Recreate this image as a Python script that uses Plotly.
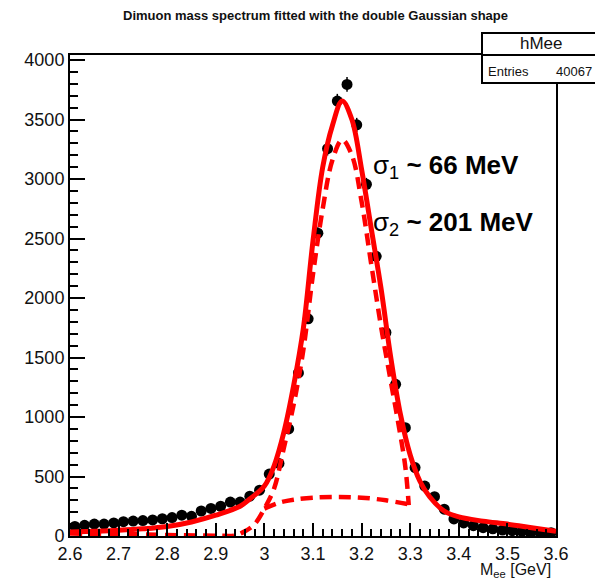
import numpy as np
import plotly.graph_objects as go

# ---------------- data ----------------
bin_centers = [2.61, 2.63, 2.65, 2.67, 2.69, 2.71, 2.73, 2.75, 2.77, 2.79,
               2.81, 2.83, 2.85, 2.87, 2.89, 2.91, 2.93, 2.95, 2.97, 2.99,
               3.01, 3.03, 3.05, 3.07, 3.09, 3.11, 3.13, 3.15, 3.17, 3.19,
               3.21, 3.23, 3.25, 3.27, 3.29, 3.31, 3.33, 3.35, 3.37, 3.39,
               3.41, 3.43, 3.45, 3.47, 3.49, 3.51, 3.53, 3.55, 3.57, 3.59]
counts = [80, 90, 100, 100, 110, 120, 125, 130, 135, 145,
          155, 175, 165, 210, 232, 250, 285, 285, 335, 385,
          520, 610, 900, 1370, 1825, 2545, 3255, 3655, 3795, 3455,
          2955, 2350, 1710, 1275, 910, 575, 420, 330, 225, 143,
          110, 87, 70, 60, 50, 45, 40, 35, 30, 28]

total_x = [2.60, 2.65, 2.70, 2.75, 2.80, 2.85, 2.90, 2.95, 2.97, 3.00,
           3.02, 3.04, 3.06, 3.08, 3.10, 3.12, 3.14, 3.16, 3.18, 3.20,
           3.22, 3.24, 3.26, 3.28, 3.30, 3.32, 3.34, 3.37, 3.40, 3.45,
           3.50, 3.55, 3.60]
total_y = [34, 40, 48, 60, 80, 118, 175, 250, 311, 420,
           590, 870, 1260, 1740, 2480, 3100, 3450, 3655, 3500, 3080,
           2580, 2080, 1500, 1020, 680, 460, 330, 210, 160, 125,
           100, 70, 40]

narrow_x = [2.60, 2.70, 2.80, 2.90, 2.94, 2.96, 2.98, 3.00, 3.02, 3.04,
            3.06, 3.08, 3.10, 3.12, 3.14, 3.16, 3.18, 3.20, 3.22, 3.24,
            3.26, 3.275, 3.29, 3.297]
narrow_y = [20, 18, 8, 3, 5, 40, 100, 230, 400, 740,
            1100, 1560, 2200, 2750, 3160, 3330, 3200, 2810, 2280, 1760,
            1300, 960, 580, 260]

wide_x = [3.00, 3.03, 3.06, 3.10, 3.15, 3.20, 3.25, 3.295]
wide_y = [230, 280, 305, 322, 328, 322, 300, 268]

x_ticks = [2.6, 2.7, 2.8, 2.9, 3.0, 3.1, 3.2, 3.3, 3.4, 3.5, 3.6]
x_tick_labels = ["2.6", "2.7", "2.8", "2.9", "3", "3.1", "3.2", "3.3", "3.4", "3.5", "3.6"]
y_ticks = [0, 500, 1000, 1500, 2000, 2500, 3000, 3500, 4000]

title_text = "Dimuon mass spectrum fitted with the double Gaussian shape"
stat_name = "hMee"
stat_entries = "40067"

# ---------------- layout geometry ----------------
W, H = 595, 581
ML, MR, MT, MB = 70, 39, 55, 45
PW = W - ML - MR
PH = H - MT - MB


def px2x(px):
    return (px - ML) / PW


def py2y(py):
    return (H - MB - py) / PH


FONT = "Liberation Sans, Arial, sans-serif"

fig = go.Figure()

fig.add_trace(go.Scatter(
    x=bin_centers, y=counts, mode="markers",
    marker=dict(color="black", size=11),
    error_y=dict(type="data", array=np.sqrt(np.array(counts)), color="black",
                 thickness=1.5, width=0),
    showlegend=False, hoverinfo="skip"))

fig.add_trace(go.Scatter(
    x=total_x, y=total_y, mode="lines", line=dict(color="#ff0000", width=5, shape="spline"),
    showlegend=False, hoverinfo="skip"))

fig.add_trace(go.Scatter(
    x=narrow_x, y=narrow_y, mode="lines",
    line=dict(color="#ff0000", width=4.5, shape="spline", dash="12px,7px"),
    showlegend=False, hoverinfo="skip"))

fig.add_trace(go.Scatter(
    x=wide_x, y=wide_y, mode="lines",
    line=dict(color="#ff0000", width=4.5, shape="spline", dash="12px,7px"),
    showlegend=False, hoverinfo="skip"))

axis_common = dict(showgrid=False, zeroline=False, showline=True, linecolor="black",
                   linewidth=2, mirror=True, ticks="inside", tickcolor="black",
                   tickwidth=2, tickfont=dict(family=FONT, size=18, color="#111"))

fig.update_xaxes(range=[2.6, 3.6], tickvals=x_ticks, ticktext=x_tick_labels, ticklen=13,
                 minor=dict(dtick=0.02, tick0=2.6, ticklen=7, tickwidth=2, ticks="inside",
                            tickcolor="black"),
                 **axis_common)
fig.update_yaxes(range=[0, 4042], tickvals=y_ticks, ticklen=15,
                 minor=dict(dtick=100, tick0=0, ticklen=8, tickwidth=2, ticks="inside",
                            tickcolor="black"),
                 **axis_common)

annotations = [
    dict(text=f"<b>{title_text}</b>", x=px2x(315), y=py2y(16), xref="paper", yref="paper",
         showarrow=False, xanchor="center", yanchor="middle",
         font=dict(family=FONT, size=13, color="#111")),
    dict(text="σ<sub>1</sub> <b>~ 66 MeV</b>", x=px2x(371), y=py2y(166), xref="paper", yref="paper",
         showarrow=False, xanchor="left", yanchor="middle",
         font=dict(family=FONT, size=26, color="black")),
    dict(text="σ<sub>2</sub> <b>~ 201 MeV</b>", x=px2x(371), y=py2y(224), xref="paper", yref="paper",
         showarrow=False, xanchor="left", yanchor="middle",
         font=dict(family=FONT, size=26, color="black")),
    dict(text="M<sub>ee</sub> [GeV]", x=px2x(553), y=py2y(570), xref="paper", yref="paper",
         showarrow=False, xanchor="right", yanchor="middle",
         font=dict(family=FONT, size=16, color="#111")),
    dict(text=stat_name, x=px2x(541), y=py2y(43), xref="paper", yref="paper",
         showarrow=False, xanchor="center", yanchor="middle",
         font=dict(family=FONT, size=17, color="#111")),
    dict(text="Entries", x=px2x(486), y=py2y(71), xref="paper", yref="paper",
         showarrow=False, xanchor="left", yanchor="middle",
         font=dict(family=FONT, size=13, color="#111")),
    dict(text=stat_entries, x=px2x(594), y=py2y(71), xref="paper", yref="paper",
         showarrow=False, xanchor="right", yanchor="middle",
         font=dict(family=FONT, size=13, color="#111")),
]

shapes = [
    dict(type="rect", xref="paper", yref="paper", x0=px2x(482), x1=px2x(620),
         y0=py2y(83), y1=py2y(33), line=dict(color="black", width=2), fillcolor="white",
         layer="above"),
    dict(type="line", xref="paper", yref="paper", x0=px2x(482), x1=px2x(620),
         y0=py2y(55), y1=py2y(55), line=dict(color="black", width=2), layer="above"),
]

fig.update_layout(
    width=W, height=H,
    margin=dict(l=ML, r=MR, t=MT, b=MB, pad=0),
    paper_bgcolor="white", plot_bgcolor="white",
    annotations=annotations, shapes=shapes,
    showlegend=False,
)

fig.write_html("out.html")
